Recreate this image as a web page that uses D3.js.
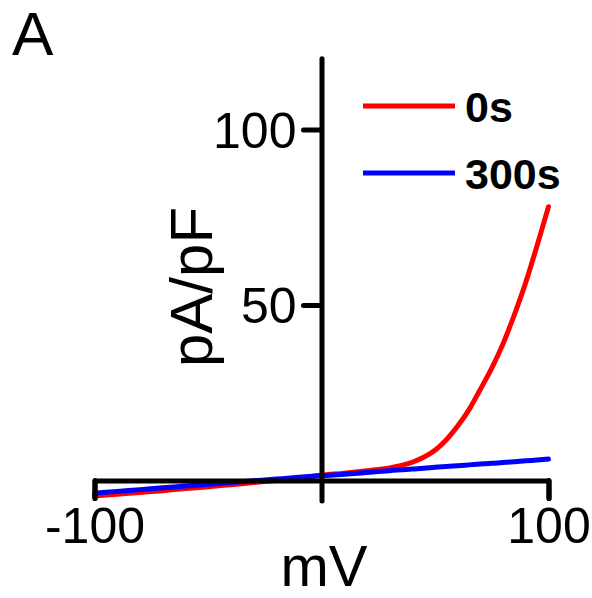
<!DOCTYPE html>
<html>
<head>
<meta charset="utf-8">
<script src="https://cdn.jsdelivr.net/npm/d3@7"></script>
<style>
  html, body { margin: 0; padding: 0; background: #fff; }
  svg { display: block; font-family: "Liberation Sans", Arial, sans-serif; }
</style>
</head>
<body>
<svg id="chart" width="592" height="598"></svg>
<script>
// ---- data ----
const voltages = [-100, -90, -80, -70, -60, -50, -40, -30, -20, -10, 0, 10, 20, 30, 40, 45, 50, 55, 60, 65, 70, 75, 80, 85, 90, 95, 100];
const current0s = [-4.4, -3.9, -3.4, -2.9, -2.3, -1.8, -1.2, -0.6, 0.0, 0.7, 1.5, 2.1, 2.8, 3.6, 5.2, 6.6, 8.6, 11.6, 15.5, 20.2, 26.0, 32.0, 39.0, 47.3, 56.5, 67.0, 78.0];
const current300s = [-3.6, -3.1, -2.6, -2.1, -1.6, -1.1, -0.6, -0.1, 0.4, 0.9, 1.35, 1.8, 2.3, 2.8, 3.3, 3.5, 3.8, 4.0, 4.2, 4.45, 4.7, 4.9, 5.1, 5.35, 5.6, 5.85, 6.1];
const seriesNames = ["0s", "300s"];
const seriesColors = ["#ff0000", "#0000ff"];
const xTicks = [-100, 100];
const yTicks = [50, 100];
const xLabel = "mV";
const yLabel = "pA/pF";
const panelLabel = "A";

// ---- layout ----
const svg = d3.select("#chart");
const x = d3.scaleLinear().domain([-100, 100]).range([94.5, 548.5]);
const y = d3.scaleLinear().domain([-5.7, 120.3]).range([500.5, 58.3]);
const axisW = 5;
const fmt = d => String(d);

const line = d3.line()
  .x((d, i) => x(voltages[i]))
  .y(d => y(d))
  .curve(d3.curveMonotoneX);

// curves
const series = [current0s, current300s];
series.forEach((s, k) => {
  svg.append("path")
    .datum(s)
    .attr("d", line)
    .attr("fill", "none")
    .attr("stroke", seriesColors[k])
    .attr("stroke-width", 5)
    .attr("stroke-linejoin", "round")
    .attr("stroke-linecap", "round");
});

// x axis (at y = 0)
const xAxis = svg.append("g")
  .attr("transform", `translate(0,${y(0)})`)
  .call(d3.axisBottom(x).tickValues(xTicks).tickSize(18).tickSizeOuter(18).tickPadding(9).tickFormat(fmt));
xAxis.select(".domain").attr("stroke", "#000").attr("stroke-width", axisW).attr("stroke-linejoin", "round").attr("stroke-linecap", "round");
xAxis.selectAll(".tick line").attr("stroke", "#000").attr("stroke-width", axisW).attr("stroke-linecap", "round");
xAxis.selectAll(".tick text").attr("font-size", 50).attr("fill", "#000")
  .attr("font-family", "Liberation Sans, Arial, sans-serif");

// y axis (at x = 0)
const yAxis = svg.append("g")
  .attr("transform", `translate(${x(0)},0)`)
  .call(d3.axisLeft(y).tickValues(yTicks).tickSize(18).tickSizeOuter(0).tickPadding(7).tickFormat(fmt));
yAxis.select(".domain").attr("stroke", "#000").attr("stroke-width", axisW).attr("stroke-linecap", "round");
yAxis.selectAll(".tick line").attr("stroke", "#000").attr("stroke-width", axisW).attr("stroke-linecap", "round");
yAxis.selectAll(".tick text").attr("font-size", 50).attr("fill", "#000").attr("dy", "0.35em")
  .attr("font-family", "Liberation Sans, Arial, sans-serif");

// axis titles
svg.append("text")
  .attr("x", 324).attr("y", 586)
  .attr("text-anchor", "middle")
  .attr("font-size", 58)
  .text(xLabel);

svg.append("text")
  .attr("transform", "translate(211.5,287) rotate(-90)")
  .attr("text-anchor", "middle")
  .attr("font-size", 60)
  .text(yLabel);

// panel label
svg.append("text")
  .attr("x", 12).attr("y", 55)
  .attr("font-size", 62)
  .text(panelLabel);

// legend
const legendY = [106, 173];
seriesNames.forEach((name, k) => {
  svg.append("line")
    .attr("x1", 363).attr("x2", 455)
    .attr("y1", legendY[k]).attr("y2", legendY[k])
    .attr("stroke", seriesColors[k]).attr("stroke-width", 5);
  svg.append("text")
    .attr("x", 465).attr("y", legendY[k] + 15.5)
    .attr("font-size", 43).attr("font-weight", "bold")
    .text(name);
});
</script>
</body>
</html>
